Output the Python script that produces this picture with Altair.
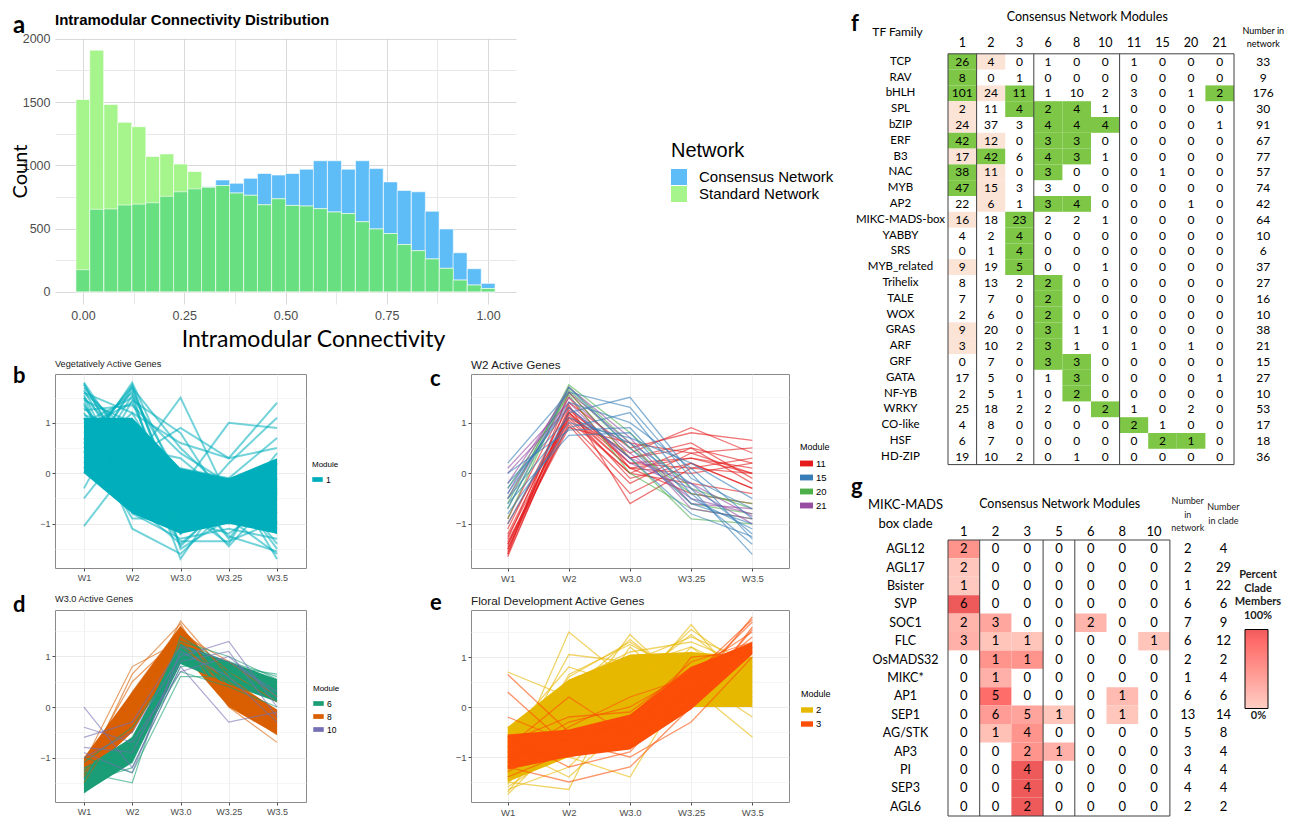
import altair as alt
import pandas as pd

SANS = "Liberation Sans, Arial, sans-serif"
NARROW = "Liberation Sans Narrow, Arial Narrow, Liberation Sans, sans-serif"
LATO = "Lato, Carlito, Calibri, sans-serif"

# ============================ panel a ============================
bin_centers = [0.000, 0.034, 0.069, 0.103, 0.138, 0.172, 0.207, 0.241, 0.276, 0.310,
               0.345, 0.379, 0.414, 0.448, 0.483, 0.517, 0.552, 0.586, 0.621, 0.655,
               0.690, 0.724, 0.759, 0.793, 0.828, 0.862, 0.897, 0.931, 0.966, 1.000]
consensus_counts = [175, 652, 655, 686, 693, 704, 755, 791, 814, 830,
                    884, 858, 897, 935, 923, 935, 969, 1036, 1036, 969,
                    1036, 974, 869, 801, 791, 637, 497, 309, 183, 67]
standard_counts = [1520, 1910, 1480, 1340, 1305, 1070, 1090, 1010, 951, 826,
                   840, 781, 763, 688, 735, 683, 678, 657, 631, 619,
                   554, 497, 461, 374, 325, 260, 186, 93, 54, 26]
network_names = ["Consensus Network", "Standard Network"]
network_colors = ["#5EBCF7", "#A6F58C"]
overlap_color = "#68DF80"

# ============================ panels b-e ============================
timepoints = ["W1", "W2", "W3.0", "W3.25", "W3.5"]

veg_modules = ["1"]
veg_colors = ["#00AFBB"]
veg_m1_core_lo = [0.0, -0.8, -1.2, -1.0, -1.2]
veg_m1_core_hi = [1.1, 1.1, 0.1, -0.1, 0.3]
veg_m1_lines = [
    [1.80, 0.40, -0.50, -0.70, -0.60], [1.75, 0.20, -1.20, -0.40, -1.00],
    [1.70, 0.60, -0.20, -1.00, -0.30], [1.65, 0.00, -0.80, -0.20, -1.50],
    [1.60, 0.80, -1.70, -0.30, -0.80], [1.55, -0.30, -0.40, -1.45, -0.40],
    [1.50, 0.50, 0.30, -0.50, -1.20], [1.45, 1.00, -1.00, -0.80, 0.40],
    [1.40, -0.60, -1.40, -0.60, -0.20], [0.40, 1.80, -0.30, -0.60, -0.90],
    [0.50, 1.75, -0.90, -1.20, -0.50], [0.60, 1.70, 0.50, -0.40, -1.00],
    [0.20, 1.65, -0.60, -0.10, -1.70], [0.80, 1.60, -1.50, -0.90, -0.70],
    [0.00, 1.55, -0.10, -1.30, -0.10], [1.00, 1.50, -1.20, -0.20, -1.40],
    [-0.30, 1.45, 0.80, -0.70, -0.60], [0.90, 1.40, -0.70, -1.40, 0.20],
    [1.30, 0.30, 0.90, 0.30, 1.40], [1.20, -0.20, -0.30, 1.00, 0.90],
    [-1.05, 0.20, 1.50, -0.50, -0.80], [-0.50, 0.70, -1.10, -0.90, -1.60],
    [1.10, -1.10, -1.60, -0.70, -0.30], [0.70, -0.90, -0.90, 0.20, 1.10],
    [1.35, 0.10, 0.10, -0.10, 0.70], [1.50, -0.80, -1.30, -1.10, -1.30],
    [0.30, 1.20, 0.60, 0.30, 0.50], [1.60, 1.20, -0.50, -0.30, -1.10],
    [1.15, 0.90, -1.45, -0.50, -0.45], [0.60, -0.40, -0.20, -1.25, -1.55],
    [1.78, 0.05, -0.60, -0.55, -0.75], [0.10, 1.72, -0.75, -0.85, -0.35],
    [1.25, 1.35, 0.40, -0.20, 0.10], [0.45, -0.20, -1.35, -1.35, -0.95],
]

w2_modules = ["11", "15", "20", "21"]
w2_colors = ["#E41A1C", "#377EB8", "#4DAF4A", "#984EA3"]
w2_m11_lines = [
    [-1.65, 1.20, 0.10, 0.30, 0.00], [-1.60, 1.10, 0.00, 0.50, -0.20],
    [-1.55, 1.30, 0.20, 0.10, 0.30], [-1.50, 1.00, -0.20, 0.40, 0.50],
    [-1.45, 1.25, 0.30, 0.60, -0.10], [-1.40, 1.15, 0.10, 0.00, 0.20],
    [-1.35, 0.95, -0.40, 0.20, -0.30], [-1.30, 1.40, 0.50, 0.80, 0.65],
    [-1.25, 1.05, 0.00, -0.20, -0.40], [-1.20, 1.20, 0.20, 0.30, 0.10],
    [-1.10, 1.35, -0.60, 0.10, 0.00], [-1.00, 1.10, 0.40, 0.90, 0.40],
    [-0.90, 1.50, 0.10, -0.40, -0.60], [-1.60, 1.60, 0.30, 0.50, 0.20],
    [-1.50, 1.20, -0.10, 0.20, -0.30], [-1.40, 0.90, 0.60, 0.40, 0.00],
]
w2_m15_lines = [
    [-1.00, 1.20, 1.50, 0.00, -1.30], [-0.80, 0.90, 1.20, -0.30, -1.60],
    [-0.60, 0.75, 0.80, -0.50, -1.10], [-0.40, 1.40, 1.00, 0.10, -0.90],
    [-0.20, 1.10, 0.60, -0.20, -1.20], [0.00, 0.85, 0.90, -0.40, -1.40],
    [0.20, 1.60, 1.30, -0.10, -0.70], [-0.70, 1.70, 0.50, -0.60, -1.00],
    [-0.30, 1.30, 0.30, -0.80, -1.25], [-0.50, 1.00, 0.70, 0.20, -0.50],
]
w2_m20_lines = [
    [-0.90, 1.70, 0.60, -0.60, -0.80], [-0.70, 1.60, 0.30, -0.90, -1.00],
    [-0.50, 1.65, 0.50, -0.40, -0.60], [-0.30, 1.55, 0.00, -0.70, -0.90],
    [-0.60, 1.75, 0.80, -0.30, -0.70],
]
w2_m21_lines = [
    [-0.50, 1.50, 0.40, -0.50, -0.80], [-0.20, 1.60, 0.60, -0.70, -0.90],
    [0.10, 1.40, 0.20, -0.30, -1.00], [-0.40, 1.70, 0.70, -0.60, -0.70],
    [0.00, 1.30, 0.30, -0.20, -0.85],
]

w30_modules = ["6", "8", "10"]
w30_colors = ["#1B9E77", "#D95F02", "#7570B3"]
w30_m6_core_lo = [-1.70, -1.10, 0.85, 0.45, 0.10]
w30_m6_core_hi = [-1.20, -0.60, 1.25, 0.90, 0.55]
w30_m8_core_lo = [-1.40, -0.50, 1.10, 0.00, -0.55]
w30_m8_core_hi = [-1.00, 0.30, 1.60, 0.55, -0.05]
w30_m6_lines = [
    [-1.70, -1.00, 1.00, 0.70, 0.30], [-1.65, -1.10, 0.90, 0.80, 0.50],
    [-1.60, -0.80, 1.20, 0.60, 0.20], [-1.50, -1.20, 0.80, 0.90, 0.60],
    [-1.40, -0.60, 1.10, 0.50, 0.40], [-1.30, -1.50, 1.40, 0.80, 0.65],
    [-1.20, -0.90, 0.70, 0.40, 0.00], [-1.10, -0.40, 1.00, 0.70, 0.35],
    [-1.00, -1.30, 0.60, 0.60, 0.10], [-1.55, -0.70, 1.30, 1.00, 0.55],
    [-1.45, -1.00, 0.95, 0.55, 0.25],
]
w30_m8_lines = [
    [-1.50, 0.00, 1.50, 0.40, -0.30], [-1.40, 0.30, 1.60, 0.20, -0.50],
    [-1.30, -0.20, 1.70, 0.60, -0.10], [-1.20, 0.50, 1.40, 0.00, -0.70],
    [-1.10, 0.80, 1.30, 0.30, -0.40], [-1.00, -0.50, 1.55, 0.70, 0.10],
    [-1.25, 0.20, 1.20, 0.50, -0.20], [-1.35, 0.65, 1.65, 0.10, -0.55],
    [-1.15, -0.10, 1.45, 0.90, 0.20],
]
w30_m10_lines = [
    [-1.00, -0.50, 1.00, 1.30, 0.00], [-0.80, -0.90, 0.90, 1.10, -0.20],
    [-0.60, -0.30, 1.20, 0.90, 0.30], [0.00, -1.20, 0.80, -0.30, -0.10],
    [-0.40, -0.70, 0.70, 1.00, 0.20], [-0.90, -1.30, 1.10, 0.60, -0.30],
]

flo_modules = ["2", "3"]
flo_colors = ["#E7B800", "#FC4E07"]
flo_m2_core_lo = [-1.50, -1.00, -0.50, 0.00, 0.00]
flo_m2_core_hi = [-0.40, 0.55, 1.05, 1.10, 1.00]
flo_m3_core_lo = [-1.25, -1.00, -0.85, -0.05, 1.05]
flo_m3_core_hi = [-0.55, -0.45, -0.15, 0.80, 1.30]
flo_m2_lines = [
    [-1.75, -0.50, 0.40, 0.80, 0.50], [-1.70, -0.20, 1.45, 0.30, 0.80],
    [-1.60, -0.80, 0.20, 1.65, 0.20], [-1.50, -1.65, 0.80, 1.20, 0.60],
    [-1.40, 0.60, 1.30, 0.50, 1.10], [-1.30, 1.50, 0.50, 1.00, 0.00],
    [-1.20, 1.05, 0.90, 1.40, 0.90], [-1.00, 0.30, 1.35, 0.40, -0.60],
    [-0.80, -1.40, -0.30, 0.90, 0.40], [-0.60, 0.80, 0.40, 1.55, 0.70],
    [-0.40, -0.60, 1.20, 0.20, 1.00], [0.70, 0.20, 0.00, 1.10, 0.30],
    [-1.10, -1.00, -1.40, 0.60, -0.20], [-0.90, 0.50, 1.10, 1.30, 0.80],
    [-1.55, 0.00, 0.70, 0.70, 0.10], [-1.45, 0.65, 1.25, 0.60, 0.90],
    [-1.35, 0.40, 0.50, 1.45, 0.50], [-1.65, -1.20, 0.00, 1.20, 0.30],
]
flo_m3_lines = [
    [-1.40, -0.90, -0.50, 0.30, 1.80], [-1.30, -0.60, -0.30, 0.50, 1.70],
    [-1.20, -1.50, -1.20, 0.00, 1.60], [-1.00, -0.30, 0.00, 0.70, 1.50],
    [-0.80, 0.20, -0.60, 1.00, 1.10], [-0.60, -1.20, -0.90, 0.40, 1.40],
    [0.65, -0.50, -0.40, 0.20, 1.20], [0.30, -0.80, -0.20, 0.90, 1.30],
    [-0.20, -0.70, -1.00, -0.30, 1.00], [-1.10, -0.40, 0.20, 0.60, 1.75],
    [-0.90, -1.00, -0.70, 0.10, 1.55], [-0.70, -0.20, -0.10, 0.80, 1.15],
]

# ============================ panel f ============================
tf_families = ["TCP", "RAV", "bHLH", "SPL", "bZIP", "ERF", "B3", "NAC", "MYB", "AP2",
               "MIKC-MADS-box", "YABBY", "SRS", "MYB_related", "Trihelix", "TALE", "WOX",
               "GRAS", "ARF", "GRF", "GATA", "NF-YB", "WRKY", "CO-like", "HSF", "HD-ZIP"]
tf_modules = ["1", "2", "3", "6", "8", "10", "11", "15", "20", "21"]
tf_counts = [
    [26, 4, 0, 1, 0, 0, 1, 0, 0, 0], [8, 0, 1, 0, 0, 0, 0, 0, 0, 0],
    [101, 24, 11, 1, 10, 2, 3, 0, 1, 2], [2, 11, 4, 2, 4, 1, 0, 0, 0, 0],
    [24, 37, 3, 4, 4, 4, 0, 0, 0, 1], [42, 12, 0, 3, 3, 0, 0, 0, 0, 0],
    [17, 42, 6, 4, 3, 1, 0, 0, 0, 0], [38, 11, 0, 3, 0, 0, 0, 1, 0, 0],
    [47, 15, 3, 3, 0, 0, 0, 0, 0, 0], [22, 6, 1, 3, 4, 0, 0, 0, 1, 0],
    [16, 18, 23, 2, 2, 1, 0, 0, 0, 0], [4, 2, 4, 0, 0, 0, 0, 0, 0, 0],
    [0, 1, 4, 0, 0, 0, 0, 0, 0, 0], [9, 19, 5, 0, 0, 1, 0, 0, 0, 0],
    [8, 13, 2, 2, 0, 0, 0, 0, 0, 0], [7, 7, 0, 2, 0, 0, 0, 0, 0, 0],
    [2, 6, 0, 2, 0, 0, 0, 0, 0, 0], [9, 20, 0, 3, 1, 1, 0, 0, 0, 0],
    [3, 10, 2, 3, 1, 0, 1, 0, 1, 0], [0, 7, 0, 3, 3, 0, 0, 0, 0, 0],
    [17, 5, 0, 1, 3, 0, 0, 0, 0, 1], [2, 5, 1, 0, 2, 0, 0, 0, 0, 0],
    [25, 18, 2, 2, 0, 2, 1, 0, 2, 0], [4, 8, 0, 0, 0, 0, 2, 1, 0, 0],
    [6, 7, 0, 0, 0, 0, 0, 2, 1, 0], [19, 10, 2, 0, 1, 0, 0, 0, 0, 0],
]
tf_in_network = [33, 9, 176, 30, 91, 67, 77, 57, 74, 42, 64, 10, 6, 37, 27, 16, 10,
                 38, 21, 15, 27, 10, 53, 17, 18, 36]
tf_green_cells = {"TCP": ["1"], "RAV": ["1"], "bHLH": ["1", "3", "21"], "SPL": ["3", "6", "8"],
                  "bZIP": ["6", "8", "10"], "ERF": ["1", "6", "8"], "B3": ["2", "6", "8"],
                  "NAC": ["1", "6"], "MYB": ["1"], "AP2": ["6", "8"], "MIKC-MADS-box": ["3"],
                  "YABBY": ["3"], "SRS": ["3"], "MYB_related": ["3"], "Trihelix": ["6"],
                  "TALE": ["6"], "WOX": ["6"], "GRAS": ["6"], "ARF": ["6"], "GRF": ["6", "8"],
                  "GATA": ["8"], "NF-YB": ["8"], "WRKY": ["10"], "CO-like": ["11"],
                  "HSF": ["15", "20"]}
tf_pink_cells = {"TCP": ["2"], "bHLH": ["2"], "SPL": ["1"], "bZIP": ["1"], "ERF": ["2"],
                 "B3": ["1"], "NAC": ["2"], "MYB": ["2"], "AP2": ["2"], "MIKC-MADS-box": ["1"],
                 "MYB_related": ["1"], "GRAS": ["1"], "ARF": ["1"]}
GREEN = "#7DC646"
PINK = "#FBE3D6"

# ============================ panel g ============================
clades = ["AGL12", "AGL17", "Bsister", "SVP", "SOC1", "FLC", "OsMADS32", "MIKC*", "AP1",
          "SEP1", "AG/STK", "AP3", "PI", "SEP3", "AGL6"]
g_modules = ["1", "2", "3", "5", "6", "8", "10"]
clade_counts = [
    [2, 0, 0, 0, 0, 0, 0], [2, 0, 0, 0, 0, 0, 0], [1, 0, 0, 0, 0, 0, 0],
    [6, 0, 0, 0, 0, 0, 0], [2, 3, 0, 0, 2, 0, 0], [3, 1, 1, 0, 0, 0, 1],
    [0, 1, 1, 0, 0, 0, 0], [0, 1, 0, 0, 0, 0, 0], [0, 5, 0, 0, 0, 1, 0],
    [0, 6, 5, 1, 0, 1, 0], [0, 1, 4, 0, 0, 0, 0], [0, 0, 2, 1, 0, 0, 0],
    [0, 0, 4, 0, 0, 0, 0], [0, 0, 4, 0, 0, 0, 0], [0, 0, 2, 0, 0, 0, 0],
]
clade_in_network = [2, 2, 1, 6, 7, 6, 2, 1, 6, 13, 5, 3, 4, 4, 2]
clade_sizes = [4, 29, 22, 6, 9, 12, 2, 4, 6, 14, 8, 4, 4, 4, 2]

# ============================ build panel a ============================
HALF_BIN = 0.01724
hist_rows, over_rows = [], []
for c, cc, sc in zip(bin_centers, consensus_counts, standard_counts):
    hist_rows.append({"network": network_names[0], "x0": c - HALF_BIN, "x1": c + HALF_BIN, "count": cc})
    hist_rows.append({"network": network_names[1], "x0": c - HALF_BIN, "x1": c + HALF_BIN, "count": sc})
    over_rows.append({"x0": c - HALF_BIN, "x1": c + HALF_BIN, "count": min(cc, sc)})
hist_df = pd.DataFrame(hist_rows)
over_df = pd.DataFrame(over_rows)

A_W, A_H = 461, 266
a_x = alt.X("x0:Q", scale=alt.Scale(domain=[-0.069, 1.069], nice=False, zero=False),
            axis=alt.Axis(values=[0, 0.125, 0.25, 0.375, 0.5, 0.625, 0.75, 0.875, 1.0],
                          labelExpr="datum.value % 0.25 === 0 ? format(datum.value, '.2f') : ''",
                          domain=False, ticks=False, labelPadding=5, labelFont=SANS,
                          labelFontSize=12.5, labelColor="#4d4d4d", grid=True,
                          gridColor={"condition": {"test": "datum.value % 0.25 === 0", "value": "#d9d9d9"},
                                     "value": "#e8e8e8"},
                          title="Intramodular Connectivity", titleFont=LATO, titleFontSize=23,
                          titleFontWeight="normal", titleColor="black", titleX=258, titleY=42,
                          titleBaseline="alphabetic", titleAlign="center"))
a_y = alt.Y("count:Q", scale=alt.Scale(domain=[-96, 2006], nice=False, zero=False),
            axis=alt.Axis(values=[0, 250, 500, 750, 1000, 1250, 1500, 1750, 2000],
                          labelExpr="datum.value % 500 === 0 ? format(datum.value, 'd') : ''",
                          domain=False, ticks=False, labelPadding=5, labelFont=SANS,
                          labelFontSize=12.5, labelColor="#4d4d4d", grid=True,
                          gridColor={"condition": {"test": "datum.value % 500 === 0", "value": "#d9d9d9"},
                                     "value": "#e8e8e8"},
                          title="Count", titleFont=LATO, titleFontSize=20, titleFontWeight="normal",
                          titleColor="black", titleAngle=270, titleX=-29, titleY=A_H / 2,
                          titleBaseline="alphabetic", titleAlign="center"))

bars = alt.Chart(hist_df).mark_bar(stroke="white", strokeWidth=0.6).encode(
    x=a_x, x2="x1:Q", y=a_y, y2=alt.datum(0),
    color=alt.Color("network:N", scale=alt.Scale(domain=network_names, range=network_colors),
                    legend=alt.Legend(title="Network", orient="none", legendX=616, legendY=103,
                                      titleFont=SANS, titleFontSize=20, titleFontWeight="normal",
                                      titleColor="black", labelFont=SANS, labelFontSize=15,
                                      labelColor="black", symbolType="square", symbolSize=256,
                                      symbolStrokeWidth=0, labelOffset=12, rowPadding=1,
                                      titlePadding=8)))
over = alt.Chart(over_df).mark_bar(color=overlap_color, stroke="white", strokeWidth=0.6).encode(
    x=a_x, x2="x1:Q", y=a_y, y2=alt.datum(0))
a_letter = alt.Chart(pd.DataFrame({"t": ["a"]})).mark_text(
    font=LATO, fontSize=24, fontWeight="bold", align="left", baseline="alphabetic", color="black"
).encode(x=alt.value(-42), y=alt.value(-5), text="t:N")
panel_a = alt.layer(bars, over, a_letter).properties(
    width=A_W, height=A_H,
    title=alt.TitleParams("Intramodular Connectivity Distribution", anchor="start", frame="group",
                          font=NARROW, fontSize=15, fontWeight="bold", color="black", offset=-14))


# ============================ build panels b-e ============================
RECT_SYMBOL = "M-1,-0.45H1V0.45H-1Z"


def profile_df(module, profiles):
    rows = []
    for gi, prof in enumerate(profiles):
        for ti, (tp, v) in enumerate(zip(timepoints, prof)):
            rows.append({"module": module, "gene": f"{module}_{gi}", "time": tp, "t": ti, "value": v})
    return pd.DataFrame(rows)


def core_df(module, lo, hi):
    return pd.DataFrame({"module": module, "time": timepoints, "t": list(range(5)), "lo": lo, "hi": hi})


def trend_panel(letter, title, modules, colors, layers_spec, ydom, w, h, title_size,
                tick_size, leg_title_size, leg_label_size, leg_x, leg_y, sym_size,
                letter_x, letter_y, title_offset, line_width, line_opacity):
    cscale = alt.Scale(domain=modules, range=colors)
    color_of = dict(zip(modules, colors))
    legend = alt.Legend(title="Module", orient="none", legendX=leg_x, legendY=leg_y,
                        titleFont=SANS, titleFontSize=leg_title_size, titleFontWeight="normal",
                        titleColor="black", labelFont=SANS, labelFontSize=leg_label_size,
                        labelColor="black", symbolType=RECT_SYMBOL, symbolSize=sym_size,
                        symbolStrokeWidth=0, symbolOpacity=1, labelOffset=3,
                        rowPadding=3, titlePadding=5)
    xaxis = alt.Axis(title=None, labelFont=SANS, labelFontSize=tick_size, labelColor="#4d4d4d",
                     tickColor="#4d4d4d", tickSize=3, domain=False, grid=True, gridColor="#ebebeb",
                     gridWidth=0.8, labelPadding=2, labelAngle=0)
    yaxis = alt.Axis(title=None, values=[-1.5, -1, -0.5, 0, 0.5, 1, 1.5],
                     labelExpr="datum.value % 1 === 0 ? format(datum.value, 'd') : ''",
                     labelFont=SANS, labelFontSize=tick_size, labelColor="#4d4d4d",
                     tickColor={"condition": {"test": "datum.value % 1 === 0", "value": "#4d4d4d"},
                                "value": "transparent"},
                     tickSize=3, domain=False, grid=True,
                     gridColor={"condition": {"test": "datum.value % 1 === 0", "value": "#e6e6e6"},
                                "value": "#f3f3f3"},
                     gridWidth=0.8, labelPadding=2)
    xs = alt.Scale(type="point", domain=timepoints, padding=0.6)
    ys = alt.Scale(domain=ydom, nice=False, zero=False)
    X = alt.X("time:N", scale=xs, axis=xaxis)
    # legend carrier: one invisible filled mark per module, so the legend shows filled keys
    layers = [alt.Chart(pd.DataFrame({"module": modules})).mark_rect(opacity=0).encode(
        color=alt.Color("module:N", scale=cscale, legend=legend))]
    for kind, mod, df in layers_spec:
        if kind == "core":
            layers.append(alt.Chart(df).mark_area(opacity=1, clip=True, color=color_of[mod]).encode(
                x=X, y=alt.Y("lo:Q", scale=ys, axis=yaxis), y2="hi:Q"))
        else:
            layers.append(alt.Chart(df).mark_line(strokeWidth=line_width, opacity=line_opacity,
                                                  clip=True, color=color_of[mod]).encode(
                x=X, y=alt.Y("value:Q", scale=ys, axis=yaxis),
                detail="gene:N", order="t:Q"))
    letter_layer = alt.Chart(pd.DataFrame({"t": [letter]})).mark_text(
        font=LATO, fontSize=22, fontWeight="bold", align="left", baseline="alphabetic", color="black"
    ).encode(x=alt.value(letter_x), y=alt.value(letter_y), text="t:N")
    return alt.layer(*layers, letter_layer).properties(
        width=w, height=h,
        title=alt.TitleParams(title, anchor="start", frame="group", font=SANS, fontSize=title_size,
                              fontWeight="normal", color="#1a1a1a", offset=title_offset),
        view=alt.ViewBackground(stroke="#8a8a8a", strokeWidth=1))


panel_b = trend_panel(
    "b", "Vegetatively Active Genes", veg_modules, veg_colors,
    [("core", "1", core_df("1", veg_m1_core_lo, veg_m1_core_hi)),
     ("line", "1", profile_df("1", veg_m1_lines))],
    [-1.88, 1.97], 251, 194, 9.2, 9, 8, 8.5, 257, 87, 110, -42, 9, -4, 2.0, 0.55)
panel_c = trend_panel(
    "c", "W2 Active Genes", w2_modules, w2_colors,
    [("line", "11", profile_df("11", w2_m11_lines)), ("line", "20", profile_df("20", w2_m20_lines)),
     ("line", "21", profile_df("21", w2_m21_lines)), ("line", "15", profile_df("15", w2_m15_lines))],
    [-1.87, 1.96], 318, 194, 11.7, 9.5, 9, 9.5, 329, 69, 169, -41, 12, -4, 1.3, 0.6)
panel_d = trend_panel(
    "d", "W3.0 Active Genes", w30_modules, w30_colors,
    [("core", "8", core_df("8", w30_m8_core_lo, w30_m8_core_hi)),
     ("core", "6", core_df("6", w30_m6_core_lo, w30_m6_core_hi)),
     ("line", "8", profile_df("8", w30_m8_lines)), ("line", "6", profile_df("6", w30_m6_lines)),
     ("line", "10", profile_df("10", w30_m10_lines))],
    [-1.88, 1.92], 251, 192, 9.2, 9, 8, 8.5, 258, 75, 110, -42, 2, -10, 1.2, 0.6)
panel_e = trend_panel(
    "e", "Floral Development Active Genes", flo_modules, flo_colors,
    [("core", "2", core_df("2", flo_m2_core_lo, flo_m2_core_hi)),
     ("line", "2", profile_df("2", flo_m2_lines)),
     ("core", "3", core_df("3", flo_m3_core_lo, flo_m3_core_hi)),
     ("line", "3", profile_df("3", flo_m3_lines))],
    [-1.90, 1.94], 318, 192, 11.7, 9.5, 9, 9.5, 330, 80, 144, -41, 0, -16, 1.3, 0.6)

# ============================ build panel f ============================
HDR = "hdr"
f_rows = []
for fam, counts in zip(tf_families, tf_counts):
    for mod, v in zip(tf_modules, counts):
        hl = "g" if mod in tf_green_cells.get(fam, []) else ("p" if mod in tf_pink_cells.get(fam, []) else "n")
        f_rows.append({"family": fam, "module": mod, "value": v, "hl": hl})
f_df = pd.DataFrame(f_rows)
f_net_df = pd.DataFrame({"family": tf_families, "module": "net", "value": tf_in_network})
f_hdr_df = pd.DataFrame({"family": HDR, "module": tf_modules, "label": tf_modules})

F_COLW, F_ROWH = 28.6, 15.8
f_cols = tf_modules + ["net"]
f_rows_dom = [HDR] + tf_families
F_W = round(F_COLW * len(f_cols), 1)
F_H = round(F_ROWH * len(f_rows_dom), 1)
f_xs = alt.Scale(type="band", domain=f_cols, paddingInner=0, paddingOuter=0)
f_ys = alt.Scale(type="band", domain=f_rows_dom, paddingInner=0, paddingOuter=0)
f_yaxis = alt.Axis(title="TF Family", titleAngle=0, titleX=-51, titleY=-7, titleAlign="center",
                   titleBaseline="middle", titleFont=LATO, titleFontSize=12, titleFontWeight="normal",
                   titleColor="black", domain=False, ticks=False, tickSize=0, grid=False,
                   labelAlign="center", labelBaseline="middle", labelPadding=48, labelFont=LATO,
                   labelFontSize=11.5, labelColor="black",
                   labelExpr="datum.value == 'hdr' ? '' : datum.value")
fX = alt.X("module:N", scale=f_xs, axis=None)
fY = alt.Y("family:N", scale=f_ys, axis=f_yaxis)

f_cells = alt.Chart(f_df[f_df.hl != "n"]).mark_rect().encode(
    x=fX, y=fY, color=alt.Color("hl:N", scale=alt.Scale(domain=["g", "p"], range=[GREEN, PINK]), legend=None))
f_vals = alt.Chart(f_df).mark_text(font=LATO, fontSize=12, color="black").encode(x=fX, y=fY, text="value:Q")
f_net = alt.Chart(f_net_df).mark_text(font=LATO, fontSize=12, color="black", dx=15).encode(
    x=fX, y=fY, text="value:Q")
f_hdr = alt.Chart(f_hdr_df).mark_text(font=LATO, fontSize=12.5, color="black", dy=-3).encode(
    x=fX, y=fY, text="label:N")
f_sep_l = alt.Chart(pd.DataFrame({"module": ["1", "2", "6", "11"]})).mark_rule(color="#404040", strokeWidth=1).encode(
    x=alt.X("module:N", scale=f_xs, axis=None, bandPosition=0), y=alt.value(F_ROWH), y2=alt.value(F_H))
f_sep_r = alt.Chart(pd.DataFrame({"module": ["21"]})).mark_rule(color="#404040", strokeWidth=1).encode(
    x=alt.X("module:N", scale=f_xs, axis=None, bandPosition=1), y=alt.value(F_ROWH), y2=alt.value(F_H))
f_top = alt.Chart(pd.DataFrame({"e": [0]})).mark_rule(color="#404040", strokeWidth=1).encode(
    x=alt.value(0), x2=alt.value(F_COLW * len(tf_modules)), y=alt.value(F_ROWH))
f_bot = alt.Chart(pd.DataFrame({"e": [0]})).mark_rule(color="#404040", strokeWidth=1).encode(
    x=alt.value(0), x2=alt.value(F_COLW * len(tf_modules)), y=alt.value(F_H))
f_head = alt.Chart(pd.DataFrame({"module": ["net"]})).mark_text(
    font=LATO, fontSize=9, lineHeight=12.5, baseline="middle", dx=15, color="black").encode(
    x=fX, y=alt.value(-7), text=alt.value(["Number in", "network"]))
f_letter = alt.Chart(pd.DataFrame({"t": ["f"]})).mark_text(
    font=LATO, fontSize=22, fontWeight="bold", align="left", baseline="alphabetic", color="black"
).encode(x=alt.value(-97), y=alt.value(-7), text="t:N")
panel_f = alt.layer(f_cells, f_vals, f_net, f_hdr, f_sep_l, f_sep_r, f_top, f_bot, f_head, f_letter).properties(
    width=F_W, height=F_H,
    title=alt.TitleParams("Consensus Network Modules", anchor="middle", frame="group", dx=-18, offset=-10,
                          font=LATO, fontSize=12.5, fontWeight="normal", color="black"))

# ============================ build panel g ============================
g_rows = []
for cl, counts, size in zip(clades, clade_counts, clade_sizes):
    for mod, v in zip(g_modules, counts):
        g_rows.append({"clade": cl, "module": mod, "value": v, "pct": 100.0 * v / size})
g_df = pd.DataFrame(g_rows)
g_net_df = pd.DataFrame({"clade": clades, "module": "net", "value": clade_in_network})
g_size_df = pd.DataFrame({"clade": clades, "module": "clade", "value": clade_sizes})

G_COLW, G_ROWH = 31.7, 18.4
g_cols = g_modules + ["net", "clade"]
G_W = round(G_COLW * len(g_cols), 1)
G_H = round(G_ROWH * len(clades), 1)
G_LEG_X, G_LEG_Y = 287, 29
g_xs = alt.Scale(type="band", domain=g_cols, paddingInner=0, paddingOuter=0)
g_ys = alt.Scale(type="band", domain=clades, paddingInner=0, paddingOuter=0)
g_xaxis = alt.Axis(orient="top", labelAngle=0, domain=False, ticks=False, tickSize=0, grid=False,
                   labelPadding=2, labelFont=LATO, labelFontSize=13, labelColor="black",
                   labelExpr="(datum.value == 'net' || datum.value == 'clade') ? '' : datum.value",
                   title=None)
g_yaxis = alt.Axis(title=["MIKC-MADS", "box clade"], titleAngle=0, titleX=-43, titleY=-36,
                   titleAlign="center", titleBaseline="middle", titleLineHeight=19, titleFont=LATO,
                   titleFontSize=13, titleFontWeight="normal", titleColor="black", domain=False,
                   ticks=False, tickSize=0, grid=False, labelAlign="center", labelBaseline="middle",
                   labelPadding=43, labelFont=LATO, labelFontSize=12.5, labelColor="black")
gX = alt.X("module:N", scale=g_xs, axis=g_xaxis)
gY = alt.Y("clade:N", scale=g_ys, axis=g_yaxis)

g_cells = alt.Chart(g_df[g_df.value > 0]).mark_rect().encode(
    x=gX, y=gY,
    color=alt.Color("pct:Q", scale=alt.Scale(domain=[0, 100], range=["#FFFFFF", "#EE5A5A"]),
                    legend=alt.Legend(title=["Percent", "Clade", "Members", "100%"], orient="none",
                                      direction="vertical", legendX=G_LEG_X, legendY=G_LEG_Y,
                                      titleFont=LATO, titleFontSize=11, titleFontWeight="bold",
                                      titleColor="#222222", titleAlign="center", titleAnchor="middle",
                                      titleLineHeight=13.5, titlePadding=9,
                                      gradientLength=79, gradientThickness=23,
                                      gradientStrokeColor="black", gradientStrokeWidth=1,
                                      values=[0], labelExpr="''")))
g_zero = alt.Chart(pd.DataFrame({"t": ["0%"]})).mark_text(
    font=LATO, fontSize=11, fontWeight="bold", color="#222222", align="center", baseline="middle"
).encode(x=alt.value(G_LEG_X + 12 + 11.5), y=alt.value(176), text="t:N")
g_vals = alt.Chart(g_df).mark_text(font=LATO, fontSize=13, color="black").encode(x=gX, y=gY, text="value:Q")
g_net = alt.Chart(g_net_df).mark_text(font=LATO, fontSize=13, color="black", dx=2).encode(
    x=gX, y=gY, text="value:Q")
g_size = alt.Chart(g_size_df).mark_text(font=LATO, fontSize=13, color="black", dx=6).encode(
    x=gX, y=gY, text="value:Q")
g_sep_l = alt.Chart(pd.DataFrame({"module": ["1", "2", "5", "6"]})).mark_rule(color="#404040", strokeWidth=1).encode(
    x=alt.X("module:N", scale=g_xs, axis=g_xaxis, bandPosition=0), y=alt.value(0), y2=alt.value(G_H))
g_sep_r = alt.Chart(pd.DataFrame({"module": ["10"]})).mark_rule(color="#404040", strokeWidth=1).encode(
    x=alt.X("module:N", scale=g_xs, axis=g_xaxis, bandPosition=1), y=alt.value(0), y2=alt.value(G_H))
g_top = alt.Chart(pd.DataFrame({"e": [0]})).mark_rule(color="#404040", strokeWidth=1).encode(
    x=alt.value(0), x2=alt.value(G_COLW * len(g_modules)), y=alt.value(0))
g_bot = alt.Chart(pd.DataFrame({"e": [0]})).mark_rule(color="#404040", strokeWidth=1).encode(
    x=alt.value(0), x2=alt.value(G_COLW * len(g_modules)), y=alt.value(G_H))
g_head_net = alt.Chart(pd.DataFrame({"module": ["net"]})).mark_text(
    font=LATO, fontSize=9, lineHeight=13.5, baseline="middle", dx=2, color="#222222").encode(
    x=gX, y=alt.value(-39), text=alt.value(["Number", "in", "network"]))
g_head_clade = alt.Chart(pd.DataFrame({"module": ["clade"]})).mark_text(
    font=LATO, fontSize=9, lineHeight=13.5, baseline="middle", dx=6, color="#222222").encode(
    x=gX, y=alt.value(-33), text=alt.value(["Number", "in clade"]))
g_letter = alt.Chart(pd.DataFrame({"t": ["g"]})).mark_text(
    font=LATO, fontSize=22, fontWeight="bold", align="left", baseline="alphabetic", color="black"
).encode(x=alt.value(-97), y=alt.value(-46), text="t:N")
panel_g = alt.layer(g_cells, g_vals, g_net, g_size, g_sep_l, g_sep_r, g_top, g_bot,
                    g_head_net, g_head_clade, g_zero, g_letter).properties(
    width=G_W, height=G_H,
    title=alt.TitleParams("Consensus Network Modules", anchor="middle", frame="group", dx=-31, offset=-34,
                          font=LATO, fontSize=12.5, fontWeight="normal", color="black"))

# ============================ layout ============================
IND = dict(x="independent", y="independent", color="independent")

row_a = alt.hconcat(panel_a).resolve_scale(**IND)
row_bc = alt.hconcat(panel_b, panel_c, spacing=89).resolve_scale(**IND)
row_de = alt.hconcat(panel_d, panel_e, spacing=88).resolve_scale(**IND)
left = alt.vconcat(row_a, row_bc, row_de, spacing=8).resolve_scale(**IND)

row_f = alt.hconcat(panel_f).resolve_scale(**IND)
row_g = alt.hconcat(panel_g).resolve_scale(**IND)
right = alt.vconcat(row_f, row_g, spacing=10).resolve_scale(**IND)

chart = alt.hconcat(left, right, spacing=17).resolve_scale(**IND).properties(
    padding={"left": 2, "top": 2, "right": 0, "bottom": 0}
).configure_view(stroke=None).configure_axis(labelFont=SANS, titleFont=SANS).configure_legend(
    labelFont=SANS, titleFont=SANS).configure_title(font=SANS)

chart.save("out.html", embed_options={"renderer": "svg", "actions": False})
